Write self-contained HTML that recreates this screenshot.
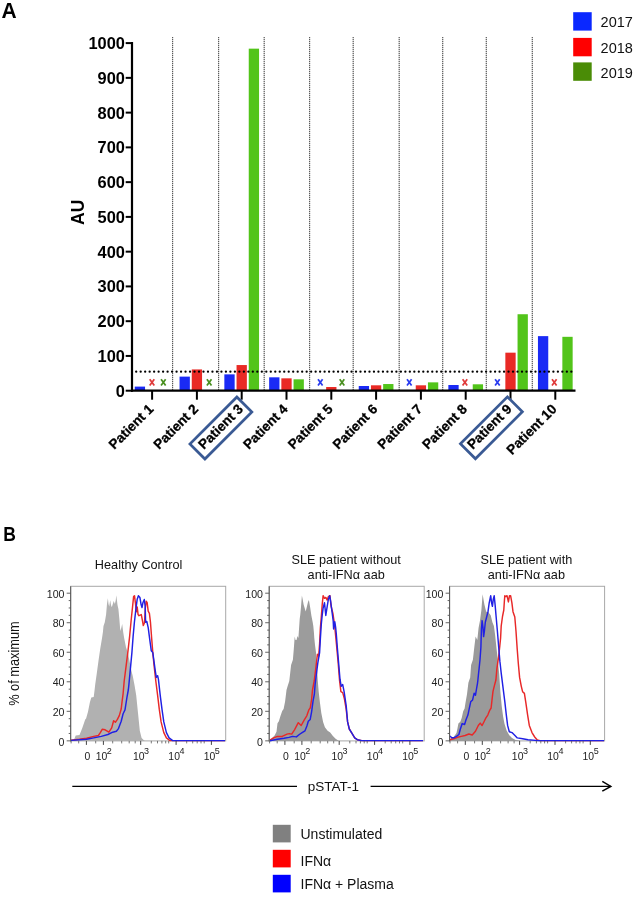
<!DOCTYPE html>
<html><head><meta charset="utf-8"><style>
html,body{margin:0;padding:0;background:#fff;width:633px;height:900px;overflow:hidden}
svg{display:block;will-change:transform;font-family:"Liberation Sans", sans-serif}
</style></head><body>
<svg width="633" height="900" viewBox="0 0 633 900">

<text transform="translate(1.5,17.8) scale(1,1.07)" font-size="21" font-weight="bold" fill="#000">A</text>
<line x1="172.6" y1="37" x2="172.6" y2="390" stroke="#d0d0d0" stroke-width="1.1"/>
<line x1="172.6" y1="37" x2="172.6" y2="390" stroke="#555" stroke-width="1.1" stroke-dasharray="1 1"/>
<line x1="218.6" y1="37" x2="218.6" y2="390" stroke="#d0d0d0" stroke-width="1.1"/>
<line x1="218.6" y1="37" x2="218.6" y2="390" stroke="#555" stroke-width="1.1" stroke-dasharray="1 1"/>
<line x1="264.2" y1="37" x2="264.2" y2="390" stroke="#d0d0d0" stroke-width="1.1"/>
<line x1="264.2" y1="37" x2="264.2" y2="390" stroke="#555" stroke-width="1.1" stroke-dasharray="1 1"/>
<line x1="309.6" y1="37" x2="309.6" y2="390" stroke="#d0d0d0" stroke-width="1.1"/>
<line x1="309.6" y1="37" x2="309.6" y2="390" stroke="#555" stroke-width="1.1" stroke-dasharray="1 1"/>
<line x1="353.2" y1="37" x2="353.2" y2="390" stroke="#d0d0d0" stroke-width="1.1"/>
<line x1="353.2" y1="37" x2="353.2" y2="390" stroke="#555" stroke-width="1.1" stroke-dasharray="1 1"/>
<line x1="399.2" y1="37" x2="399.2" y2="390" stroke="#d0d0d0" stroke-width="1.1"/>
<line x1="399.2" y1="37" x2="399.2" y2="390" stroke="#555" stroke-width="1.1" stroke-dasharray="1 1"/>
<line x1="442.7" y1="37" x2="442.7" y2="390" stroke="#d0d0d0" stroke-width="1.1"/>
<line x1="442.7" y1="37" x2="442.7" y2="390" stroke="#555" stroke-width="1.1" stroke-dasharray="1 1"/>
<line x1="486.3" y1="37" x2="486.3" y2="390" stroke="#d0d0d0" stroke-width="1.1"/>
<line x1="486.3" y1="37" x2="486.3" y2="390" stroke="#555" stroke-width="1.1" stroke-dasharray="1 1"/>
<line x1="532.3" y1="37" x2="532.3" y2="390" stroke="#d0d0d0" stroke-width="1.1"/>
<line x1="532.3" y1="37" x2="532.3" y2="390" stroke="#555" stroke-width="1.1" stroke-dasharray="1 1"/>
<rect x="134.75" y="386.60" width="10.3" height="4.10" fill="#1a2af5"/>
<path d="M149.70,379.20L154.30,385.40M154.30,379.20L149.70,385.40" stroke="#e03a3a" stroke-width="1.75" fill="none"/>
<path d="M161.05,379.20L165.65,385.40M165.65,379.20L161.05,385.40" stroke="#4a9020" stroke-width="1.75" fill="none"/>
<rect x="179.55" y="376.62" width="10.3" height="14.08" fill="#1a2af5"/>
<rect x="191.75" y="369.43" width="10.3" height="21.27" fill="#e92a25"/>
<path d="M206.90,379.20L211.50,385.40M211.50,379.20L206.90,385.40" stroke="#4a9020" stroke-width="1.75" fill="none"/>
<rect x="224.35" y="374.36" width="10.3" height="16.34" fill="#1a2af5"/>
<rect x="236.55" y="365.05" width="10.3" height="25.65" fill="#e92a25"/>
<rect x="248.75" y="48.66" width="10.3" height="342.04" fill="#52c41a"/>
<rect x="269.15" y="377.32" width="10.3" height="13.38" fill="#1a2af5"/>
<rect x="281.35" y="378.33" width="10.3" height="12.37" fill="#e92a25"/>
<rect x="293.55" y="379.33" width="10.3" height="11.37" fill="#52c41a"/>
<path d="M318.00,379.20L322.60,385.40M322.60,379.20L318.00,385.40" stroke="#2a3cf0" stroke-width="1.75" fill="none"/>
<rect x="326.15" y="387.02" width="10.3" height="3.68" fill="#e92a25"/>
<path d="M339.70,379.20L344.30,385.40M344.30,379.20L339.70,385.40" stroke="#4a9020" stroke-width="1.75" fill="none"/>
<rect x="358.75" y="386.01" width="10.3" height="4.69" fill="#1a2af5"/>
<rect x="370.95" y="385.31" width="10.3" height="5.39" fill="#e92a25"/>
<rect x="383.15" y="384.03" width="10.3" height="6.67" fill="#52c41a"/>
<path d="M407.00,379.20L411.60,385.40M411.60,379.20L407.00,385.40" stroke="#2a3cf0" stroke-width="1.75" fill="none"/>
<rect x="415.75" y="385.31" width="10.3" height="5.39" fill="#e92a25"/>
<rect x="427.95" y="382.36" width="10.3" height="8.34" fill="#52c41a"/>
<rect x="448.35" y="385.00" width="10.3" height="5.70" fill="#1a2af5"/>
<path d="M462.60,379.20L467.20,385.40M467.20,379.20L462.60,385.40" stroke="#e03a3a" stroke-width="1.75" fill="none"/>
<rect x="472.75" y="384.30" width="10.3" height="6.40" fill="#52c41a"/>
<path d="M495.10,379.20L499.70,385.40M499.70,379.20L495.10,385.40" stroke="#2a3cf0" stroke-width="1.75" fill="none"/>
<rect x="505.35" y="352.67" width="10.3" height="38.03" fill="#e92a25"/>
<rect x="517.55" y="314.23" width="10.3" height="76.47" fill="#52c41a"/>
<rect x="537.95" y="336.13" width="10.3" height="54.57" fill="#1a2af5"/>
<path d="M552.00,379.20L556.60,385.40M556.60,379.20L552.00,385.40" stroke="#e03a3a" stroke-width="1.75" fill="none"/>
<rect x="562.35" y="336.82" width="10.3" height="53.88" fill="#52c41a"/>
<line x1="136.2" y1="371.7" x2="572.5" y2="371.7" stroke="#000" stroke-width="2.3" stroke-linecap="round" stroke-dasharray="0.001 4.485"/>
<line x1="132.0" y1="42.099999999999966" x2="132.0" y2="391.7" stroke="#000" stroke-width="2.2"/>
<line x1="131.0" y1="390.7" x2="575.5" y2="390.7" stroke="#000" stroke-width="2.2"/>
<line x1="125.7" y1="390.70" x2="132.0" y2="390.70" stroke="#000" stroke-width="2"/>
<text x="124.9" y="396.70" font-size="16.4" font-weight="bold" text-anchor="end" fill="#000">0</text>
<line x1="125.7" y1="355.94" x2="132.0" y2="355.94" stroke="#000" stroke-width="2"/>
<text x="124.9" y="361.94" font-size="16.4" font-weight="bold" text-anchor="end" fill="#000">100</text>
<line x1="125.7" y1="321.18" x2="132.0" y2="321.18" stroke="#000" stroke-width="2"/>
<text x="124.9" y="327.18" font-size="16.4" font-weight="bold" text-anchor="end" fill="#000">200</text>
<line x1="125.7" y1="286.42" x2="132.0" y2="286.42" stroke="#000" stroke-width="2"/>
<text x="124.9" y="292.42" font-size="16.4" font-weight="bold" text-anchor="end" fill="#000">300</text>
<line x1="125.7" y1="251.66" x2="132.0" y2="251.66" stroke="#000" stroke-width="2"/>
<text x="124.9" y="257.66" font-size="16.4" font-weight="bold" text-anchor="end" fill="#000">400</text>
<line x1="125.7" y1="216.90" x2="132.0" y2="216.90" stroke="#000" stroke-width="2"/>
<text x="124.9" y="222.90" font-size="16.4" font-weight="bold" text-anchor="end" fill="#000">500</text>
<line x1="125.7" y1="182.14" x2="132.0" y2="182.14" stroke="#000" stroke-width="2"/>
<text x="124.9" y="188.14" font-size="16.4" font-weight="bold" text-anchor="end" fill="#000">600</text>
<line x1="125.7" y1="147.38" x2="132.0" y2="147.38" stroke="#000" stroke-width="2"/>
<text x="124.9" y="153.38" font-size="16.4" font-weight="bold" text-anchor="end" fill="#000">700</text>
<line x1="125.7" y1="112.62" x2="132.0" y2="112.62" stroke="#000" stroke-width="2"/>
<text x="124.9" y="118.62" font-size="16.4" font-weight="bold" text-anchor="end" fill="#000">800</text>
<line x1="125.7" y1="77.86" x2="132.0" y2="77.86" stroke="#000" stroke-width="2"/>
<text x="124.9" y="83.86" font-size="16.4" font-weight="bold" text-anchor="end" fill="#000">900</text>
<line x1="125.7" y1="43.10" x2="132.0" y2="43.10" stroke="#000" stroke-width="2"/>
<text x="124.9" y="49.10" font-size="16.4" font-weight="bold" text-anchor="end" fill="#000">1000</text>
<line x1="152.10" y1="390.7" x2="152.10" y2="399.7" stroke="#000" stroke-width="2"/>
<line x1="196.90" y1="390.7" x2="196.90" y2="399.7" stroke="#000" stroke-width="2"/>
<line x1="241.70" y1="390.7" x2="241.70" y2="399.7" stroke="#000" stroke-width="2"/>
<line x1="286.50" y1="390.7" x2="286.50" y2="399.7" stroke="#000" stroke-width="2"/>
<line x1="331.30" y1="390.7" x2="331.30" y2="399.7" stroke="#000" stroke-width="2"/>
<line x1="376.10" y1="390.7" x2="376.10" y2="399.7" stroke="#000" stroke-width="2"/>
<line x1="420.90" y1="390.7" x2="420.90" y2="399.7" stroke="#000" stroke-width="2"/>
<line x1="465.70" y1="390.7" x2="465.70" y2="399.7" stroke="#000" stroke-width="2"/>
<line x1="510.50" y1="390.7" x2="510.50" y2="399.7" stroke="#000" stroke-width="2"/>
<line x1="555.30" y1="390.7" x2="555.30" y2="399.7" stroke="#000" stroke-width="2"/>
<text transform="translate(83.8,212.2) rotate(-90)" font-size="17.6" font-weight="bold" text-anchor="middle" fill="#000">AU</text>
<text transform="translate(154.30,410) rotate(-45)" font-size="13.6" font-weight="bold" text-anchor="end" fill="#000" stroke="#000" stroke-width="0.3">Patient 1</text>
<text transform="translate(199.10,410) rotate(-45)" font-size="13.6" font-weight="bold" text-anchor="end" fill="#000" stroke="#000" stroke-width="0.3">Patient 2</text>
<text transform="translate(243.90,410) rotate(-45)" font-size="13.6" font-weight="bold" text-anchor="end" fill="#000" stroke="#000" stroke-width="0.3">Patient 3</text>
<text transform="translate(288.70,410) rotate(-45)" font-size="13.6" font-weight="bold" text-anchor="end" fill="#000" stroke="#000" stroke-width="0.3">Patient 4</text>
<text transform="translate(333.50,410) rotate(-45)" font-size="13.6" font-weight="bold" text-anchor="end" fill="#000" stroke="#000" stroke-width="0.3">Patient 5</text>
<text transform="translate(378.30,410) rotate(-45)" font-size="13.6" font-weight="bold" text-anchor="end" fill="#000" stroke="#000" stroke-width="0.3">Patient 6</text>
<text transform="translate(423.10,410) rotate(-45)" font-size="13.6" font-weight="bold" text-anchor="end" fill="#000" stroke="#000" stroke-width="0.3">Patient 7</text>
<text transform="translate(467.90,410) rotate(-45)" font-size="13.6" font-weight="bold" text-anchor="end" fill="#000" stroke="#000" stroke-width="0.3">Patient 8</text>
<text transform="translate(512.70,410) rotate(-45)" font-size="13.6" font-weight="bold" text-anchor="end" fill="#000" stroke="#000" stroke-width="0.3">Patient 9</text>
<text transform="translate(557.50,410) rotate(-45)" font-size="13.6" font-weight="bold" text-anchor="end" fill="#000" stroke="#000" stroke-width="0.3">Patient 10</text>
<rect transform="translate(220.90,428.0) rotate(-45)" x="-33.2" y="-10.6" width="66.4" height="21.2" fill="none" stroke="#3a5a94" stroke-width="2.7"/>
<rect transform="translate(491.40,427.8) rotate(-45)" x="-33.2" y="-10.6" width="66.4" height="21.2" fill="none" stroke="#3a5a94" stroke-width="2.7"/>
<rect x="573.2" y="12.2" width="18.5" height="18.4" fill="#0a28ff"/>
<text x="600.6" y="27.3" font-size="14.5" fill="#111">2017</text>
<rect x="573.2" y="37.9" width="18.5" height="18.4" fill="#ff0000"/>
<text x="600.6" y="53.0" font-size="14.5" fill="#111">2018</text>
<rect x="573.2" y="62.4" width="18.5" height="18.4" fill="#4a8c06"/>
<text x="600.6" y="77.5" font-size="14.5" fill="#111">2019</text>
<text transform="translate(3.2,540.7) scale(1,1.14)" font-size="17.5" font-weight="bold" fill="#000">B</text>
<text x="138.6" y="569.3" font-size="12.7" text-anchor="middle" fill="#111">Healthy Control</text>
<text x="346.2" y="564.2" font-size="12.7" text-anchor="middle" fill="#111">SLE patient without</text>
<text x="346.2" y="579.3" font-size="12.7" text-anchor="middle" fill="#111">anti-IFN&#945; aab</text>
<text x="526.4" y="564.2" font-size="12.7" text-anchor="middle" fill="#111">SLE patient with</text>
<text x="526.4" y="579.3" font-size="12.7" text-anchor="middle" fill="#111">anti-IFN&#945; aab</text>
<text transform="translate(18.6,663.6) rotate(-90) scale(1,1.1)" font-size="12.8" text-anchor="middle" fill="#111">% of maximum</text>
<rect x="70.7" y="586.3" width="155.0" height="154.60000000000002" fill="none" stroke="#a8a8a8" stroke-width="1"/>
<rect x="269.2" y="586.3" width="155.0" height="154.60000000000002" fill="none" stroke="#a8a8a8" stroke-width="1"/>
<rect x="449.6" y="586.3" width="155.0" height="154.60000000000002" fill="none" stroke="#a8a8a8" stroke-width="1"/>
<polygon points="71.5,741.0 73.8,740.2 75.7,735.5 79.5,735.0 82.3,727.9 85.2,719.4 86.1,718.4 88.0,711.8 89.9,702.3 91.3,697.6 93.7,697.1 94.6,690.0 95.2,684.6 96.7,673.9 98.4,661.4 100.2,649.0 102.0,638.3 102.9,632.3 103.5,626.0 104.8,622.2 106.1,614.6 107.0,603.8 107.9,598.2 108.5,604.0 109.2,606.6 110.2,600.3 111.0,605.0 111.8,607.2 112.8,604.0 113.7,601.0 114.9,604.0 115.8,600.0 116.2,595.3 116.9,600.0 117.5,605.0 118.4,609.0 119.4,619.6 120.3,631.0 121.3,628.0 122.2,624.1 123.2,632.3 124.2,638.3 126.0,647.2 127.8,652.6 129.6,661.4 131.3,670.3 132.7,675.7 134.4,684.6 136.2,695.2 138.0,713.0 139.8,730.8 141.6,737.9 144.2,740.6 145.0,741.0" fill="#b1b1b1"/>
<polyline points="71.0,740.2 79.5,739.3 86.6,738.3 93.7,736.4 98.4,735.5 100.3,732.7 102.2,729.3 105.1,729.8 108.9,732.2 111.7,727.9 113.6,720.8 115.5,722.2 117.4,719.4 119.3,715.6 121.2,709.0 122.1,701.4 123.1,693.8 124.2,681.0 126.0,666.8 127.8,652.6 129.6,636.6 131.3,618.8 132.6,606.3 133.6,596.6 134.5,595.7 135.4,602.8 136.3,611.7 137.2,607.0 138.1,614.6 139.0,615.7 141.3,614.6 142.4,620.4 143.3,625.5 144.5,622.7 145.3,608.2 146.2,601.3 147.1,602.4 148.2,611.1 149.4,613.4 150.5,622.7 151.7,638.8 152.8,652.6 154.0,665.0 155.8,681.0 157.6,695.2 159.3,709.4 161.1,721.9 163.8,732.6 166.4,737.9 170.0,740.6 225.0,740.6" fill="none" stroke="#e82828" stroke-width="1.45" stroke-linejoin="round"/>
<polyline points="71.0,740.4 79.5,739.8 86.6,739.3 93.7,737.9 101.3,736.4 107.9,734.5 112.7,732.2 116.4,731.2 118.3,728.9 121.2,721.3 123.1,713.7 125.0,709.9 126.9,697.6 128.3,690.0 128.9,684.6 130.4,668.6 131.9,652.6 133.1,636.6 134.4,622.3 135.8,609.9 137.2,599.2 138.4,595.7 139.9,597.4 141.1,604.6 142.0,607.5 142.9,602.8 144.3,599.5 145.2,606.3 145.6,622.3 146.8,621.4 148.2,627.7 149.6,638.3 151.3,650.8 152.8,652.6 154.0,661.4 155.2,670.3 156.3,677.4 157.6,675.7 158.4,679.2 160.2,695.2 162.0,709.4 163.8,721.9 166.4,732.6 169.1,737.9 172.7,740.6 225.0,740.6" fill="none" stroke="#2020e4" stroke-width="1.45" stroke-linejoin="round"/>
<polygon points="269.7,741.0 269.9,740.2 271.8,738.3 274.6,735.5 276.5,731.7 277.5,723.2 278.9,721.3 280.3,716.5 282.2,710.9 283.6,709.0 285.1,701.4 286.5,690.0 287.6,686.3 289.3,681.0 291.1,665.0 292.9,659.7 293.8,649.0 294.7,636.6 295.5,640.0 296.5,640.1 297.5,636.0 298.4,638.0 298.8,632.3 299.4,623.4 299.7,619.0 300.3,614.6 301.0,607.0 301.9,595.6 302.8,600.0 303.6,604.6 305.7,611.4 306.8,607.0 308.0,602.0 308.9,600.0 310.1,607.0 311.4,615.8 312.7,622.2 313.3,626.0 313.9,632.3 314.3,638.0 315.0,645.0 316.0,652.6 316.9,666.8 317.8,681.0 318.7,691.7 319.9,702.3 321.3,713.0 323.1,721.9 324.9,727.2 327.6,730.8 330.2,732.6 332.9,736.1 335.6,738.8 338.2,740.6 339.0,741.0" fill="#9c9c9c"/>
<polyline points="269.9,740.2 273.7,737.9 277.5,736.4 282.2,736.4 287.0,734.1 289.3,733.6 291.7,734.1 294.5,729.8 298.3,722.7 301.2,725.5 304.0,720.3 306.9,715.6 308.8,709.9 310.2,708.0 311.6,699.5 312.5,690.0 314.2,681.0 316.0,666.8 317.4,654.3 318.7,656.1 319.6,643.7 320.4,627.7 321.3,617.0 322.2,604.6 323.1,595.7 324.5,598.3 325.8,597.4 327.2,600.1 328.4,596.6 329.9,595.7 331.1,606.3 332.9,613.4 334.7,625.9 336.4,643.7 338.2,663.2 339.6,681.0 340.9,691.7 342.7,692.6 344.4,698.8 346.2,709.4 347.6,721.9 349.3,729.0 352.0,733.4 354.7,737.9 357.3,739.7 361.8,740.6 423.0,740.6" fill="none" stroke="#e82828" stroke-width="1.45" stroke-linejoin="round"/>
<polyline points="269.9,740.7 277.5,739.3 284.1,738.3 288.9,737.4 292.6,736.4 296.4,736.9 299.3,734.5 302.1,732.7 305.0,730.8 306.9,726.0 308.3,721.3 310.2,719.4 311.6,711.8 313.0,701.4 314.4,693.8 315.1,684.6 316.4,673.9 317.8,663.2 319.6,652.6 320.4,638.3 321.3,624.1 322.2,615.2 323.1,608.1 324.5,602.8 325.8,615.5 327.2,606.3 328.4,599.2 329.7,595.7 330.6,601.0 332.0,611.7 333.2,621.0 333.6,629.0 334.8,621.8 335.6,627.0 336.3,634.0 337.3,647.2 338.8,665.0 340.0,679.2 341.2,686.3 342.7,684.6 344.1,691.7 346.2,705.9 347.6,721.9 349.3,729.0 352.0,733.4 354.7,737.9 357.3,739.7 361.8,740.6 423.0,740.6" fill="none" stroke="#2020e4" stroke-width="1.45" stroke-linejoin="round"/>
<polygon points="449.8,741.0 450.4,738.8 453.7,736.9 456.5,733.1 457.5,728.3 458.4,723.6 460.3,721.7 461.7,717.9 463.2,711.3 464.6,708.4 465.5,702.7 467.0,694.2 468.4,682.8 470.2,677.4 471.1,665.0 472.9,659.7 474.3,647.2 475.6,636.6 477.3,640.1 478.6,627.7 480.0,620.6 481.4,609.9 482.6,594.3 484.4,604.6 486.2,611.7 488.0,611.7 490.7,615.2 492.4,622.3 493.9,625.9 495.1,634.8 496.4,647.2 497.8,659.7 499.2,673.9 500.4,691.7 501.7,705.9 503.1,716.6 504.5,723.7 506.7,730.8 509.3,735.2 512.0,737.9 515.6,740.0 519.1,740.6 520.0,741.0" fill="#9a9a9a"/>
<polyline points="449.9,739.7 453.7,738.8 457.5,737.3 461.3,736.4 465.1,735.5 468.9,734.0 472.2,735.0 475.5,731.2 478.3,725.5 480.2,723.1 482.1,725.5 484.0,721.7 485.9,717.9 487.8,715.1 489.7,710.3 491.1,708.0 492.1,699.0 493.0,691.4 494.4,685.7 495.9,680.0 496.9,668.6 496.9,668.6 498.7,656.1 499.8,646.0 500.6,638.0 501.2,626.0 502.5,616.5 503.8,610.0 504.4,600.7 504.8,595.7 505.8,596.6 507.0,595.7 508.4,601.9 509.5,595.7 510.6,595.7 511.9,602.8 513.0,611.7 514.8,617.0 516.0,631.2 517.2,649.0 518.3,663.2 519.6,677.4 521.3,686.3 522.6,691.7 524.4,693.4 525.8,702.3 527.6,714.8 529.3,725.4 532.0,732.6 534.7,737.0 537.3,740.0 540.0,740.6 604.0,740.6" fill="none" stroke="#e82828" stroke-width="1.45" stroke-linejoin="round"/>
<polyline points="449.9,735.9 451.8,737.8 453.7,737.8 456.5,736.4 458.9,734.5 460.3,729.3 462.2,723.6 464.6,724.5 466.0,719.8 467.9,715.1 469.3,708.4 470.7,701.8 472.6,699.9 474.1,693.3 475.5,695.2 476.4,689.5 477.4,683.8 477.9,680.0 478.5,674.0 479.1,668.6 480.0,659.7 480.9,647.2 481.4,629.4 482.1,620.6 483.0,627.7 483.6,636.6 484.4,631.2 485.3,622.3 486.2,618.8 488.0,611.7 489.2,602.8 490.7,595.7 491.6,602.8 492.4,606.3 493.3,599.2 494.2,595.7 495.1,604.6 496.0,615.2 497.4,631.2 498.7,647.2 499.9,661.4 501.3,673.9 503.1,688.1 504.9,702.3 506.3,714.8 507.6,725.4 509.3,731.7 512.0,732.6 514.7,735.2 517.3,737.9 522.7,738.8 528.0,739.7 538.2,740.6 604.0,740.6" fill="none" stroke="#2020e4" stroke-width="1.45" stroke-linejoin="round"/>
<line x1="70.7" y1="586.3" x2="70.7" y2="741.4" stroke="#555" stroke-width="1"/>
<line x1="66.7" y1="740.85" x2="70.7" y2="740.85" stroke="#555" stroke-width="0.9"/>
<line x1="68.7" y1="733.47" x2="70.7" y2="733.47" stroke="#555" stroke-width="0.9"/>
<line x1="68.7" y1="726.08" x2="70.7" y2="726.08" stroke="#555" stroke-width="0.9"/>
<line x1="68.7" y1="718.70" x2="70.7" y2="718.70" stroke="#555" stroke-width="0.9"/>
<line x1="66.7" y1="711.32" x2="70.7" y2="711.32" stroke="#555" stroke-width="0.9"/>
<line x1="68.7" y1="703.94" x2="70.7" y2="703.94" stroke="#555" stroke-width="0.9"/>
<line x1="68.7" y1="696.55" x2="70.7" y2="696.55" stroke="#555" stroke-width="0.9"/>
<line x1="68.7" y1="689.17" x2="70.7" y2="689.17" stroke="#555" stroke-width="0.9"/>
<line x1="66.7" y1="681.79" x2="70.7" y2="681.79" stroke="#555" stroke-width="0.9"/>
<line x1="68.7" y1="674.40" x2="70.7" y2="674.40" stroke="#555" stroke-width="0.9"/>
<line x1="68.7" y1="667.02" x2="70.7" y2="667.02" stroke="#555" stroke-width="0.9"/>
<line x1="68.7" y1="659.64" x2="70.7" y2="659.64" stroke="#555" stroke-width="0.9"/>
<line x1="66.7" y1="652.25" x2="70.7" y2="652.25" stroke="#555" stroke-width="0.9"/>
<line x1="68.7" y1="644.87" x2="70.7" y2="644.87" stroke="#555" stroke-width="0.9"/>
<line x1="68.7" y1="637.49" x2="70.7" y2="637.49" stroke="#555" stroke-width="0.9"/>
<line x1="68.7" y1="630.11" x2="70.7" y2="630.11" stroke="#555" stroke-width="0.9"/>
<line x1="66.7" y1="622.72" x2="70.7" y2="622.72" stroke="#555" stroke-width="0.9"/>
<line x1="68.7" y1="615.34" x2="70.7" y2="615.34" stroke="#555" stroke-width="0.9"/>
<line x1="68.7" y1="607.96" x2="70.7" y2="607.96" stroke="#555" stroke-width="0.9"/>
<line x1="68.7" y1="600.57" x2="70.7" y2="600.57" stroke="#555" stroke-width="0.9"/>
<line x1="66.7" y1="593.19" x2="70.7" y2="593.19" stroke="#555" stroke-width="0.9"/>
<text x="64.5" y="745.55" font-size="10.6" text-anchor="end" fill="#222">0</text>
<text x="64.5" y="716.02" font-size="10.6" text-anchor="end" fill="#222">20</text>
<text x="64.5" y="686.49" font-size="10.6" text-anchor="end" fill="#222">40</text>
<text x="64.5" y="656.95" font-size="10.6" text-anchor="end" fill="#222">60</text>
<text x="64.5" y="627.42" font-size="10.6" text-anchor="end" fill="#222">80</text>
<text x="64.5" y="597.89" font-size="10.6" text-anchor="end" fill="#222">100</text>
<line x1="86.40" y1="740.9" x2="86.40" y2="744.9" stroke="#444" stroke-width="1"/>
<line x1="103.40" y1="740.9" x2="103.40" y2="744.9" stroke="#444" stroke-width="1"/>
<line x1="140.70" y1="740.9" x2="140.70" y2="744.9" stroke="#444" stroke-width="1"/>
<line x1="176.10" y1="740.9" x2="176.10" y2="744.9" stroke="#444" stroke-width="1"/>
<line x1="211.40" y1="740.9" x2="211.40" y2="744.9" stroke="#444" stroke-width="1"/>
<line x1="71.10" y1="740.9" x2="71.10" y2="743.4" stroke="#555" stroke-width="0.8"/>
<line x1="78.70" y1="740.9" x2="78.70" y2="743.4" stroke="#555" stroke-width="0.8"/>
<line x1="95.70" y1="740.9" x2="95.70" y2="743.4" stroke="#555" stroke-width="0.8"/>
<line x1="112.70" y1="740.9" x2="112.70" y2="743.4" stroke="#555" stroke-width="0.8"/>
<line x1="121.70" y1="740.9" x2="121.70" y2="743.4" stroke="#555" stroke-width="0.8"/>
<line x1="129.20" y1="740.9" x2="129.20" y2="743.4" stroke="#555" stroke-width="0.8"/>
<line x1="135.20" y1="740.9" x2="135.20" y2="743.4" stroke="#555" stroke-width="0.8"/>
<line x1="151.30" y1="740.9" x2="151.30" y2="743.4" stroke="#555" stroke-width="0.8"/>
<line x1="157.50" y1="740.9" x2="157.50" y2="743.4" stroke="#555" stroke-width="0.8"/>
<line x1="161.90" y1="740.9" x2="161.90" y2="743.4" stroke="#555" stroke-width="0.8"/>
<line x1="165.70" y1="740.9" x2="165.70" y2="743.4" stroke="#555" stroke-width="0.8"/>
<line x1="168.70" y1="740.9" x2="168.70" y2="743.4" stroke="#555" stroke-width="0.8"/>
<line x1="186.70" y1="740.9" x2="186.70" y2="743.4" stroke="#555" stroke-width="0.8"/>
<line x1="192.70" y1="740.9" x2="192.70" y2="743.4" stroke="#555" stroke-width="0.8"/>
<line x1="197.20" y1="740.9" x2="197.20" y2="743.4" stroke="#555" stroke-width="0.8"/>
<line x1="201.00" y1="740.9" x2="201.00" y2="743.4" stroke="#555" stroke-width="0.8"/>
<line x1="204.20" y1="740.9" x2="204.20" y2="743.4" stroke="#555" stroke-width="0.8"/>
<text x="87.50" y="759.6" font-size="10.4" text-anchor="middle" fill="#222">0</text>
<text x="101.45" y="759.6" font-size="10.4" text-anchor="middle" fill="#222">10</text>
<text x="109.30" y="754.3" font-size="9" text-anchor="middle" fill="#222">2</text>
<text x="138.75" y="759.6" font-size="10.4" text-anchor="middle" fill="#222">10</text>
<text x="146.60" y="754.3" font-size="9" text-anchor="middle" fill="#222">3</text>
<text x="174.15" y="759.6" font-size="10.4" text-anchor="middle" fill="#222">10</text>
<text x="182.00" y="754.3" font-size="9" text-anchor="middle" fill="#222">4</text>
<text x="209.45" y="759.6" font-size="10.4" text-anchor="middle" fill="#222">10</text>
<text x="217.30" y="754.3" font-size="9" text-anchor="middle" fill="#222">5</text>
<line x1="269.2" y1="586.3" x2="269.2" y2="741.4" stroke="#555" stroke-width="1"/>
<line x1="265.2" y1="740.85" x2="269.2" y2="740.85" stroke="#555" stroke-width="0.9"/>
<line x1="267.2" y1="733.47" x2="269.2" y2="733.47" stroke="#555" stroke-width="0.9"/>
<line x1="267.2" y1="726.08" x2="269.2" y2="726.08" stroke="#555" stroke-width="0.9"/>
<line x1="267.2" y1="718.70" x2="269.2" y2="718.70" stroke="#555" stroke-width="0.9"/>
<line x1="265.2" y1="711.32" x2="269.2" y2="711.32" stroke="#555" stroke-width="0.9"/>
<line x1="267.2" y1="703.94" x2="269.2" y2="703.94" stroke="#555" stroke-width="0.9"/>
<line x1="267.2" y1="696.55" x2="269.2" y2="696.55" stroke="#555" stroke-width="0.9"/>
<line x1="267.2" y1="689.17" x2="269.2" y2="689.17" stroke="#555" stroke-width="0.9"/>
<line x1="265.2" y1="681.79" x2="269.2" y2="681.79" stroke="#555" stroke-width="0.9"/>
<line x1="267.2" y1="674.40" x2="269.2" y2="674.40" stroke="#555" stroke-width="0.9"/>
<line x1="267.2" y1="667.02" x2="269.2" y2="667.02" stroke="#555" stroke-width="0.9"/>
<line x1="267.2" y1="659.64" x2="269.2" y2="659.64" stroke="#555" stroke-width="0.9"/>
<line x1="265.2" y1="652.25" x2="269.2" y2="652.25" stroke="#555" stroke-width="0.9"/>
<line x1="267.2" y1="644.87" x2="269.2" y2="644.87" stroke="#555" stroke-width="0.9"/>
<line x1="267.2" y1="637.49" x2="269.2" y2="637.49" stroke="#555" stroke-width="0.9"/>
<line x1="267.2" y1="630.11" x2="269.2" y2="630.11" stroke="#555" stroke-width="0.9"/>
<line x1="265.2" y1="622.72" x2="269.2" y2="622.72" stroke="#555" stroke-width="0.9"/>
<line x1="267.2" y1="615.34" x2="269.2" y2="615.34" stroke="#555" stroke-width="0.9"/>
<line x1="267.2" y1="607.96" x2="269.2" y2="607.96" stroke="#555" stroke-width="0.9"/>
<line x1="267.2" y1="600.57" x2="269.2" y2="600.57" stroke="#555" stroke-width="0.9"/>
<line x1="265.2" y1="593.19" x2="269.2" y2="593.19" stroke="#555" stroke-width="0.9"/>
<text x="263.0" y="745.55" font-size="10.6" text-anchor="end" fill="#222">0</text>
<text x="263.0" y="716.02" font-size="10.6" text-anchor="end" fill="#222">20</text>
<text x="263.0" y="686.49" font-size="10.6" text-anchor="end" fill="#222">40</text>
<text x="263.0" y="656.95" font-size="10.6" text-anchor="end" fill="#222">60</text>
<text x="263.0" y="627.42" font-size="10.6" text-anchor="end" fill="#222">80</text>
<text x="263.0" y="597.89" font-size="10.6" text-anchor="end" fill="#222">100</text>
<line x1="284.90" y1="740.9" x2="284.90" y2="744.9" stroke="#444" stroke-width="1"/>
<line x1="301.90" y1="740.9" x2="301.90" y2="744.9" stroke="#444" stroke-width="1"/>
<line x1="339.20" y1="740.9" x2="339.20" y2="744.9" stroke="#444" stroke-width="1"/>
<line x1="374.60" y1="740.9" x2="374.60" y2="744.9" stroke="#444" stroke-width="1"/>
<line x1="409.90" y1="740.9" x2="409.90" y2="744.9" stroke="#444" stroke-width="1"/>
<line x1="269.60" y1="740.9" x2="269.60" y2="743.4" stroke="#555" stroke-width="0.8"/>
<line x1="277.20" y1="740.9" x2="277.20" y2="743.4" stroke="#555" stroke-width="0.8"/>
<line x1="294.20" y1="740.9" x2="294.20" y2="743.4" stroke="#555" stroke-width="0.8"/>
<line x1="311.20" y1="740.9" x2="311.20" y2="743.4" stroke="#555" stroke-width="0.8"/>
<line x1="320.20" y1="740.9" x2="320.20" y2="743.4" stroke="#555" stroke-width="0.8"/>
<line x1="327.70" y1="740.9" x2="327.70" y2="743.4" stroke="#555" stroke-width="0.8"/>
<line x1="333.70" y1="740.9" x2="333.70" y2="743.4" stroke="#555" stroke-width="0.8"/>
<line x1="349.80" y1="740.9" x2="349.80" y2="743.4" stroke="#555" stroke-width="0.8"/>
<line x1="356.00" y1="740.9" x2="356.00" y2="743.4" stroke="#555" stroke-width="0.8"/>
<line x1="360.40" y1="740.9" x2="360.40" y2="743.4" stroke="#555" stroke-width="0.8"/>
<line x1="364.20" y1="740.9" x2="364.20" y2="743.4" stroke="#555" stroke-width="0.8"/>
<line x1="367.20" y1="740.9" x2="367.20" y2="743.4" stroke="#555" stroke-width="0.8"/>
<line x1="385.20" y1="740.9" x2="385.20" y2="743.4" stroke="#555" stroke-width="0.8"/>
<line x1="391.20" y1="740.9" x2="391.20" y2="743.4" stroke="#555" stroke-width="0.8"/>
<line x1="395.70" y1="740.9" x2="395.70" y2="743.4" stroke="#555" stroke-width="0.8"/>
<line x1="399.50" y1="740.9" x2="399.50" y2="743.4" stroke="#555" stroke-width="0.8"/>
<line x1="402.70" y1="740.9" x2="402.70" y2="743.4" stroke="#555" stroke-width="0.8"/>
<text x="286.00" y="759.6" font-size="10.4" text-anchor="middle" fill="#222">0</text>
<text x="299.95" y="759.6" font-size="10.4" text-anchor="middle" fill="#222">10</text>
<text x="307.80" y="754.3" font-size="9" text-anchor="middle" fill="#222">2</text>
<text x="337.25" y="759.6" font-size="10.4" text-anchor="middle" fill="#222">10</text>
<text x="345.10" y="754.3" font-size="9" text-anchor="middle" fill="#222">3</text>
<text x="372.65" y="759.6" font-size="10.4" text-anchor="middle" fill="#222">10</text>
<text x="380.50" y="754.3" font-size="9" text-anchor="middle" fill="#222">4</text>
<text x="407.95" y="759.6" font-size="10.4" text-anchor="middle" fill="#222">10</text>
<text x="415.80" y="754.3" font-size="9" text-anchor="middle" fill="#222">5</text>
<line x1="449.6" y1="586.3" x2="449.6" y2="741.4" stroke="#555" stroke-width="1"/>
<line x1="445.6" y1="740.85" x2="449.6" y2="740.85" stroke="#555" stroke-width="0.9"/>
<line x1="447.6" y1="733.47" x2="449.6" y2="733.47" stroke="#555" stroke-width="0.9"/>
<line x1="447.6" y1="726.08" x2="449.6" y2="726.08" stroke="#555" stroke-width="0.9"/>
<line x1="447.6" y1="718.70" x2="449.6" y2="718.70" stroke="#555" stroke-width="0.9"/>
<line x1="445.6" y1="711.32" x2="449.6" y2="711.32" stroke="#555" stroke-width="0.9"/>
<line x1="447.6" y1="703.94" x2="449.6" y2="703.94" stroke="#555" stroke-width="0.9"/>
<line x1="447.6" y1="696.55" x2="449.6" y2="696.55" stroke="#555" stroke-width="0.9"/>
<line x1="447.6" y1="689.17" x2="449.6" y2="689.17" stroke="#555" stroke-width="0.9"/>
<line x1="445.6" y1="681.79" x2="449.6" y2="681.79" stroke="#555" stroke-width="0.9"/>
<line x1="447.6" y1="674.40" x2="449.6" y2="674.40" stroke="#555" stroke-width="0.9"/>
<line x1="447.6" y1="667.02" x2="449.6" y2="667.02" stroke="#555" stroke-width="0.9"/>
<line x1="447.6" y1="659.64" x2="449.6" y2="659.64" stroke="#555" stroke-width="0.9"/>
<line x1="445.6" y1="652.25" x2="449.6" y2="652.25" stroke="#555" stroke-width="0.9"/>
<line x1="447.6" y1="644.87" x2="449.6" y2="644.87" stroke="#555" stroke-width="0.9"/>
<line x1="447.6" y1="637.49" x2="449.6" y2="637.49" stroke="#555" stroke-width="0.9"/>
<line x1="447.6" y1="630.11" x2="449.6" y2="630.11" stroke="#555" stroke-width="0.9"/>
<line x1="445.6" y1="622.72" x2="449.6" y2="622.72" stroke="#555" stroke-width="0.9"/>
<line x1="447.6" y1="615.34" x2="449.6" y2="615.34" stroke="#555" stroke-width="0.9"/>
<line x1="447.6" y1="607.96" x2="449.6" y2="607.96" stroke="#555" stroke-width="0.9"/>
<line x1="447.6" y1="600.57" x2="449.6" y2="600.57" stroke="#555" stroke-width="0.9"/>
<line x1="445.6" y1="593.19" x2="449.6" y2="593.19" stroke="#555" stroke-width="0.9"/>
<text x="443.4" y="745.55" font-size="10.6" text-anchor="end" fill="#222">0</text>
<text x="443.4" y="716.02" font-size="10.6" text-anchor="end" fill="#222">20</text>
<text x="443.4" y="686.49" font-size="10.6" text-anchor="end" fill="#222">40</text>
<text x="443.4" y="656.95" font-size="10.6" text-anchor="end" fill="#222">60</text>
<text x="443.4" y="627.42" font-size="10.6" text-anchor="end" fill="#222">80</text>
<text x="443.4" y="597.89" font-size="10.6" text-anchor="end" fill="#222">100</text>
<line x1="465.30" y1="740.9" x2="465.30" y2="744.9" stroke="#444" stroke-width="1"/>
<line x1="482.30" y1="740.9" x2="482.30" y2="744.9" stroke="#444" stroke-width="1"/>
<line x1="519.60" y1="740.9" x2="519.60" y2="744.9" stroke="#444" stroke-width="1"/>
<line x1="555.00" y1="740.9" x2="555.00" y2="744.9" stroke="#444" stroke-width="1"/>
<line x1="590.30" y1="740.9" x2="590.30" y2="744.9" stroke="#444" stroke-width="1"/>
<line x1="450.00" y1="740.9" x2="450.00" y2="743.4" stroke="#555" stroke-width="0.8"/>
<line x1="457.60" y1="740.9" x2="457.60" y2="743.4" stroke="#555" stroke-width="0.8"/>
<line x1="474.60" y1="740.9" x2="474.60" y2="743.4" stroke="#555" stroke-width="0.8"/>
<line x1="491.60" y1="740.9" x2="491.60" y2="743.4" stroke="#555" stroke-width="0.8"/>
<line x1="500.60" y1="740.9" x2="500.60" y2="743.4" stroke="#555" stroke-width="0.8"/>
<line x1="508.10" y1="740.9" x2="508.10" y2="743.4" stroke="#555" stroke-width="0.8"/>
<line x1="514.10" y1="740.9" x2="514.10" y2="743.4" stroke="#555" stroke-width="0.8"/>
<line x1="530.20" y1="740.9" x2="530.20" y2="743.4" stroke="#555" stroke-width="0.8"/>
<line x1="536.40" y1="740.9" x2="536.40" y2="743.4" stroke="#555" stroke-width="0.8"/>
<line x1="540.80" y1="740.9" x2="540.80" y2="743.4" stroke="#555" stroke-width="0.8"/>
<line x1="544.60" y1="740.9" x2="544.60" y2="743.4" stroke="#555" stroke-width="0.8"/>
<line x1="547.60" y1="740.9" x2="547.60" y2="743.4" stroke="#555" stroke-width="0.8"/>
<line x1="565.60" y1="740.9" x2="565.60" y2="743.4" stroke="#555" stroke-width="0.8"/>
<line x1="571.60" y1="740.9" x2="571.60" y2="743.4" stroke="#555" stroke-width="0.8"/>
<line x1="576.10" y1="740.9" x2="576.10" y2="743.4" stroke="#555" stroke-width="0.8"/>
<line x1="579.90" y1="740.9" x2="579.90" y2="743.4" stroke="#555" stroke-width="0.8"/>
<line x1="583.10" y1="740.9" x2="583.10" y2="743.4" stroke="#555" stroke-width="0.8"/>
<text x="466.40" y="759.6" font-size="10.4" text-anchor="middle" fill="#222">0</text>
<text x="480.35" y="759.6" font-size="10.4" text-anchor="middle" fill="#222">10</text>
<text x="488.20" y="754.3" font-size="9" text-anchor="middle" fill="#222">2</text>
<text x="517.65" y="759.6" font-size="10.4" text-anchor="middle" fill="#222">10</text>
<text x="525.50" y="754.3" font-size="9" text-anchor="middle" fill="#222">3</text>
<text x="553.05" y="759.6" font-size="10.4" text-anchor="middle" fill="#222">10</text>
<text x="560.90" y="754.3" font-size="9" text-anchor="middle" fill="#222">4</text>
<text x="588.35" y="759.6" font-size="10.4" text-anchor="middle" fill="#222">10</text>
<text x="596.20" y="754.3" font-size="9" text-anchor="middle" fill="#222">5</text>
<line x1="72.3" y1="786.4" x2="297" y2="786.4" stroke="#000" stroke-width="1.4"/>
<line x1="370.6" y1="786.4" x2="611" y2="786.4" stroke="#000" stroke-width="1.4"/>
<polyline points="602.3,781.4 610.8,786.4 602.3,791.2" fill="none" stroke="#000" stroke-width="1.5"/>
<text x="333.3" y="790.5" font-size="13.5" text-anchor="middle" fill="#111">pSTAT-1</text>
<rect x="272.8" y="824.8" width="17.9" height="17.6" fill="#808080"/>
<text x="300.5" y="839.2" font-size="14" fill="#111">Unstimulated</text>
<rect x="272.8" y="849.8" width="17.9" height="17.6" fill="#ff0000"/>
<text x="300.5" y="865.5" font-size="14" fill="#111">IFN&#945;</text>
<rect x="272.8" y="874.8" width="17.9" height="17.6" fill="#0000ff"/>
<text x="300.5" y="889.0" font-size="14" fill="#111">IFN&#945; + Plasma</text>
</svg></body></html>
